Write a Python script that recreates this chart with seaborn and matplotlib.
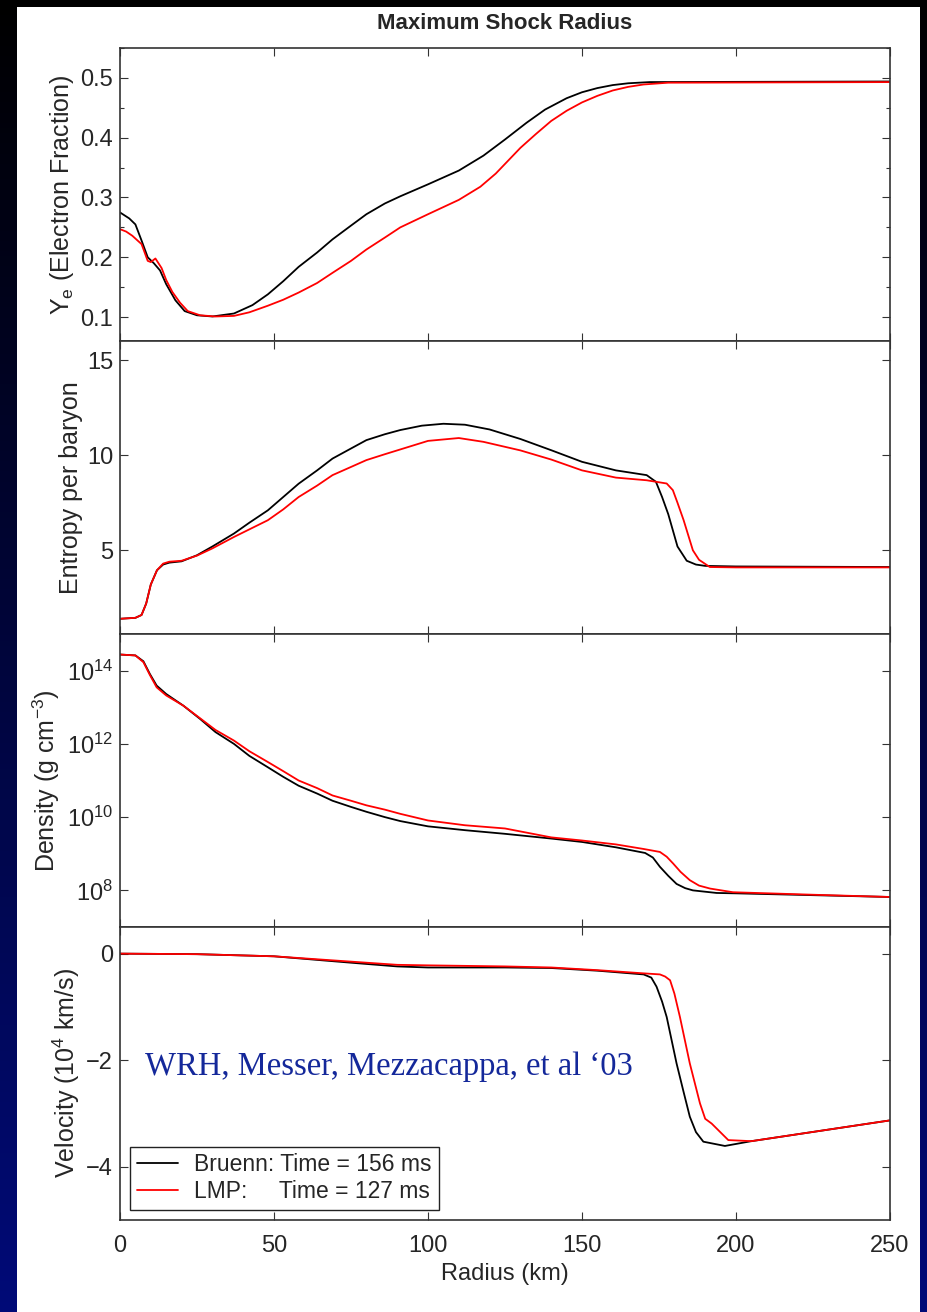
import matplotlib
matplotlib.use('Agg')
import matplotlib.pyplot as plt
from matplotlib.patches import Rectangle
from matplotlib.ticker import MultipleLocator, NullLocator, FixedLocator
import numpy as np
import pandas as pd
import seaborn as sns

BRUENN = 'Bruenn: Time = 156 ms'
LMP = 'LMP:     Time = 127 ms'

# electron fraction
ye_r_bruenn = [0, 3, 5, 7, 9, 11, 13, 15, 18, 21, 25, 30, 37, 43, 48, 53, 58, 64,
               69, 75, 80, 86, 91, 100, 110, 118, 125, 132, 138, 145, 150, 155,
               160, 165, 172, 250]
ye_bruenn = [0.275, 0.265, 0.255, 0.228, 0.200, 0.190, 0.178, 0.155, 0.128, 0.110,
             0.103, 0.101, 0.106, 0.120, 0.138, 0.160, 0.184, 0.208, 0.230, 0.253,
             0.272, 0.290, 0.302, 0.322, 0.345, 0.370, 0.397, 0.425, 0.447, 0.466,
             0.476, 0.483, 0.488, 0.491, 0.493, 0.494]
ye_r_lmp = [0, 2, 4, 7, 9, 10, 11.5, 13.5, 15, 17, 19.5, 22, 26, 31, 37, 42, 48, 53,
            58, 64, 69, 75, 80, 86, 91, 100, 110, 117, 122, 130, 135, 140, 145, 150,
            155, 160, 165, 170, 178, 250]
ye_lmp = [0.247, 0.243, 0.236, 0.222, 0.194, 0.192, 0.198, 0.182, 0.162, 0.142,
          0.124, 0.110, 0.103, 0.101, 0.102, 0.108, 0.119, 0.129, 0.141, 0.157,
          0.174, 0.194, 0.213, 0.233, 0.250, 0.272, 0.296, 0.318, 0.340, 0.383,
          0.406, 0.428, 0.445, 0.459, 0.470, 0.479, 0.485, 0.489, 0.492, 0.493]

# entropy per baryon
s_r_bruenn = [0, 5, 7, 8.5, 10, 12, 14, 16, 20, 25, 30, 37, 42, 48, 53, 58, 64, 69,
              75, 80, 86, 91, 98, 105, 112, 120, 130, 140, 150, 161, 171, 174, 176,
              178, 181, 184, 187, 190, 200, 250]
s_bruenn = [1.40, 1.45, 1.6, 2.2, 3.2, 3.95, 4.25, 4.35, 4.42, 4.74, 5.2, 5.88, 6.45,
            7.1, 7.8, 8.5, 9.2, 9.82, 10.35, 10.79, 11.1, 11.32, 11.55, 11.65, 11.6,
            11.35, 10.85, 10.26, 9.65, 9.2, 8.95, 8.6, 7.8, 6.9, 5.2, 4.45, 4.25,
            4.18, 4.15, 4.12]
s_r_lmp = [0, 5, 7, 8.5, 10, 12, 14, 16, 20, 25, 30, 37, 42, 48, 53, 58, 64, 69, 75,
           80, 86, 91, 100, 110, 118, 130, 140, 150, 161, 171, 177.5, 179.5, 181,
           183, 186, 188, 191.5, 200, 250]
s_lmp = [1.40, 1.45, 1.6, 2.2, 3.2, 3.95, 4.3, 4.4, 4.45, 4.72, 5.1, 5.70, 6.1, 6.58,
         7.15, 7.8, 8.4, 8.95, 9.38, 9.74, 10.05, 10.3, 10.75, 10.9, 10.7, 10.25,
         9.77, 9.2, 8.82, 8.68, 8.51, 8.16, 7.5, 6.58, 5.0, 4.5, 4.12, 4.1, 4.1]

# density (g cm^-3)
rho_r_bruenn = [0, 5, 7.6, 9.7, 11.9, 15, 20.6, 26, 31, 37, 42, 48, 53, 58, 64, 69,
                75, 80, 86, 91, 100, 112, 125, 140, 150, 161, 170.5, 173, 175.3, 178,
                180.7, 183.5, 186, 193.7, 200, 225, 250]
rho_bruenn = [2.75e14, 2.6e14, 1.8e14, 8.1e13, 3.9e13, 2.3e13, 1.1e13, 4.8e12,
              2.1e12, 1.0e12, 4.7e11, 2.3e11, 1.26e11, 7.2e10, 4.4e10, 2.8e10,
              1.9e10, 1.4e10, 1.0e10, 7.8e9, 5.6e9, 4.4e9, 3.5e9, 2.6e9, 2.1e9,
              1.5e9, 1.05e9, 7.9e8, 4.4e8, 2.5e8, 1.5e8, 1.15e8, 1.0e8, 8.5e7,
              8.3e7, 7.4e7, 6.6e7]
rho_r_lmp = [0, 5, 7.6, 9.7, 11.9, 15, 20.6, 26, 31, 37, 42, 48, 53, 58, 64, 69, 75,
             80, 86, 91, 100, 112, 125, 140, 150, 161, 170, 175.3, 177.5, 179.6, 182,
             185, 188, 191.6, 199, 225, 250]
rho_lmp = [2.75e14, 2.6e14, 1.7e14, 7.6e13, 3.5e13, 2.1e13, 1.1e13, 5.0e12, 2.4e12,
           1.23e12, 6.3e11, 3.2e11, 1.8e11, 1.0e11, 6.2e10, 3.9e10, 2.8e10, 2.1e10,
           1.6e10, 1.23e10, 8.1e9, 6.0e9, 4.9e9, 2.8e9, 2.3e9, 1.8e9, 1.35e9,
           1.12e9, 8.3e8, 5.4e8, 3.2e8, 1.9e8, 1.35e8, 1.12e8, 8.9e7, 7.6e7, 6.6e7]

# velocity (10^4 km/s)
v_r_bruenn = [0, 25, 50, 75, 90, 100, 125, 140, 155, 170, 172.5, 174.2, 176, 177.5,
              180.7, 183, 185, 187, 189.4, 196.4, 205, 250]
v_bruenn = [0.0, -0.01, -0.05, -0.17, -0.24, -0.26, -0.26, -0.27, -0.32, -0.39,
            -0.45, -0.62, -0.9, -1.19, -2.06, -2.6, -3.06, -3.35, -3.53, -3.61,
            -3.52, -3.13]
v_r_lmp = [0, 25, 50, 75, 90, 100, 125, 140, 155, 170, 175.3, 177, 178.6, 180,
           181.8, 185, 188.3, 190, 192.1, 197.5, 205, 250]
v_lmp = [0.0, -0.01, -0.05, -0.15, -0.21, -0.22, -0.24, -0.26, -0.31, -0.37, -0.39,
         -0.43, -0.5, -0.75, -1.19, -2.06, -2.81, -3.1, -3.19, -3.5, -3.52, -3.13]


def frame(r_b, v_b, r_l, v_l):
    return pd.concat([
        pd.DataFrame({'radius': r_b, 'value': v_b, 'model': BRUENN}),
        pd.DataFrame({'radius': r_l, 'value': v_l, 'model': LMP}),
    ], ignore_index=True)


panels = [
    (frame(ye_r_bruenn, ye_bruenn, ye_r_lmp, ye_lmp),
     r'Y$_\mathregular{e}$ (Electron Fraction)'),
    (frame(s_r_bruenn, s_bruenn, s_r_lmp, s_lmp), 'Entropy per baryon'),
    (frame(rho_r_bruenn, rho_bruenn, rho_r_lmp, rho_lmp),
     r'Density (g cm$^{\mathregular{-3}}$)'),
    (frame(v_r_bruenn, v_bruenn, v_r_lmp, v_lmp),
     r'Velocity (10$^{\mathregular{4}}$ km/s)'),
]

sns.set_theme(style='ticks')
plt.rcParams['font.family'] = ['Liberation Sans', 'DejaVu Sans']
plt.rcParams['mathtext.fontset'] = 'custom'
plt.rcParams['mathtext.rm'] = 'Liberation Sans'
plt.rcParams['mathtext.it'] = 'Liberation Sans:italic'
plt.rcParams['mathtext.bf'] = 'Liberation Sans:bold'

fig, axes = plt.subplots(4, 1, sharex=True, figsize=(9.28, 13.12), dpi=100)
fig.subplots_adjust(left=120 / 928, right=890 / 928, top=1 - 48 / 1312,
                    bottom=1 - 1220 / 1312, hspace=0)
fig.patch.set_facecolor('#000a70')

# dark gradient background with the white slide card on top
bg = fig.add_axes([0, 0, 1, 1], zorder=-10)
t = np.linspace(0, 1, 256)[:, None]
grad = np.dstack([t * 0.0, t * 0.04, t * 0.47])
bg.imshow(grad, extent=(0, 1, 0, 1), aspect='auto')
bg.add_patch(Rectangle((17 / 928, 0), (920 - 17) / 928, 1 - 7 / 1312,
                       facecolor='white', edgecolor='none'))
bg.set_xlim(0, 1)
bg.set_ylim(0, 1)
bg.set_axis_off()

for i, (ax, (df, ylabel)) in enumerate(zip(axes, panels)):
    sns.lineplot(data=df, x='radius', y='value', hue='model',
                 hue_order=[BRUENN, LMP], palette=['black', 'red'],
                 estimator=None, linewidth=1.3, ax=ax, legend=(i == 3))
    ax.set_ylabel(ylabel, fontsize=18, labelpad=3)
    ax.set_xlabel('')
    ax.set_xlim(0, 250)
    ax.xaxis.set_major_locator(FixedLocator([0, 50, 100, 150, 200, 250]))
    ax.tick_params(which='both', direction='in', top=True, right=True,
                   labelsize=17, width=0.8, color='#333333')
    ax.tick_params(which='major', length=6, pad=5)
    ax.tick_params(which='minor', length=3)
    ax.tick_params(axis='x', pad=11)
    for sp in ax.spines.values():
        sp.set_linewidth(1.2)
        sp.set_color('#333333')

ax_ye, ax_s, ax_rho, ax_v = axes

ax_ye.set_ylim(0.06, 0.55)
ax_ye.yaxis.set_major_locator(FixedLocator([0.1, 0.2, 0.3, 0.4, 0.5]))
ax_ye.yaxis.set_minor_locator(MultipleLocator(0.05))

ax_s.set_ylim(0.6, 16)
ax_s.yaxis.set_major_locator(FixedLocator([5, 10, 15]))

ax_rho.set_yscale('log')
ax_rho.set_ylim(1e7, 1e15)
ax_rho.yaxis.set_major_locator(FixedLocator([1e8, 1e10, 1e12, 1e14]))
ax_rho.yaxis.set_minor_locator(NullLocator())

ax_v.set_ylim(-5, 0.5)
ax_v.yaxis.set_major_locator(FixedLocator([-4, -2, 0]))
ax_v.set_xlabel('Radius (km)', fontsize=17)

handles, labels = ax_v.get_legend_handles_labels()
leg = ax_v.legend(handles, labels, loc='lower left', fontsize=16.5,
                  frameon=True, fancybox=False, framealpha=1, edgecolor='#222222',
                  handlelength=1.8, handletextpad=0.7, borderpad=0.3,
                  labelspacing=0.15, borderaxespad=0.45)
leg.get_frame().set_linewidth(1.0)

ax_v.text(8, -2.28, 'WRH, Messer, Mezzacappa, et al \u201803',
          family=['Liberation Serif', 'DejaVu Serif'], fontsize=23.5,
          color='#14289a', va='baseline', ha='left')

fig.text(505 / 928, 1 - 29 / 1312, 'Maximum Shock Radius', ha='center',
         va='baseline', fontsize=16, fontweight='bold')

fig.savefig('out.png', dpi=100, facecolor=fig.get_facecolor())
